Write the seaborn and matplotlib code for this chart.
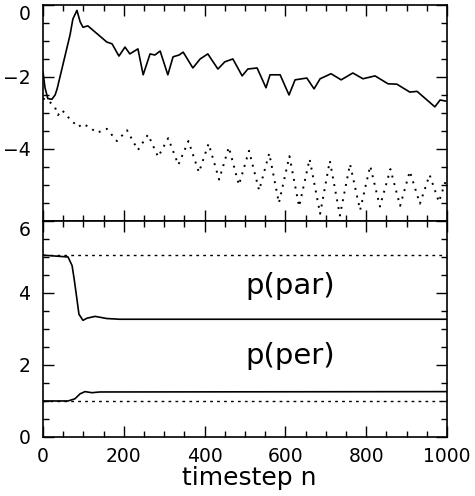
import pandas as pd
import matplotlib
matplotlib.use("Agg")
import matplotlib.pyplot as plt
import seaborn as sns

# ------------------------------
# Data
# ------------------------------
# top panel, solid curve
top_solid_n = [0, 5, 12, 22, 30, 35, 67, 74, 84, 92, 99, 111, 134, 158, 171, 188, 203, 215,
               235, 248, 265, 277, 290, 309, 322, 337, 347, 371, 389, 408, 433, 450, 470,
               493, 507, 530, 552, 562, 587, 609, 624, 653, 671, 686, 713, 738, 767, 792,
               822, 854, 876, 908, 926, 970, 983, 997]
top_solid_v = [-1.85, -2.3, -2.6, -2.62, -2.5, -2.33, -0.83, -0.39, -0.15, -0.47, -0.62, -0.58,
               -0.8, -1.03, -1.08, -1.42, -1.17, -1.36, -1.22, -1.94, -1.36, -1.39, -1.28,
               -1.94, -1.44, -1.39, -1.31, -1.75, -1.5, -1.36, -1.78, -1.58, -1.5, -1.97,
               -1.78, -1.75, -2.3, -1.94, -1.94, -2.5, -2.08, -2.03, -2.33, -2.05, -1.91,
               -2.08, -1.89, -2.05, -1.97, -2.19, -2.2, -2.42, -2.4, -2.83, -2.64, -2.67]

# top panel, dotted curve
top_dot_n = [0, 12, 22, 30, 37, 47, 65, 87, 99, 115, 134, 158, 183, 208, 235, 260, 285, 310,
             335, 360, 386, 410, 436, 460, 485, 510, 535, 560, 584, 610, 634, 660, 686, 710,
             735, 760, 785, 810, 834, 860, 884, 908, 933, 957, 980, 1000]
top_dot_v = [-2.6, -2.65, -2.75, -2.85, -3.06, -2.92, -3.15, -3.39, -3.3, -3.4, -3.55, -3.44,
             -3.78, -3.48, -4.03, -3.6, -4.22, -3.7, -4.44, -3.78, -4.65, -3.85, -4.85, -3.95,
             -5.0, -4.05, -5.15, -4.12, -5.5, -4.2, -5.6, -4.28, -5.8, -4.33, -5.85, -4.42,
             -5.7, -4.47, -5.6, -4.56, -5.58, -4.62, -5.52, -4.72, -5.47, -4.78]

# bottom panel
par_n = [0, 62, 72, 77, 84, 89, 99, 109, 129, 158, 190, 1000]
par_v = [5.05, 5.0, 4.76, 4.4, 3.83, 3.41, 3.24, 3.3, 3.35, 3.29, 3.27, 3.27]
per_n = [0, 62, 79, 92, 104, 121, 141, 1000]
per_v = [1.0, 1.0, 1.06, 1.2, 1.26, 1.23, 1.25, 1.26]
ref_n = [0, 1000]
par_ref = [5.05, 5.05]
per_ref = [1.0, 1.0]

top_ticks = [0, -2, -4]
bot_ticks = [0, 2, 4, 6]
x_ticks = [0, 200, 400, 600, 800, 1000]

# ------------------------------
# Style
# ------------------------------
sns.set_theme(style="ticks")
plt.rcParams['font.family'] = ['DejaVu Sans']
plt.rcParams['axes.linewidth'] = 1.2
plt.rcParams['axes.edgecolor'] = 'black'
plt.rcParams['text.color'] = 'black'
plt.rcParams['axes.labelcolor'] = 'black'

fig = plt.figure(figsize=(4.75, 4.96), dpi=100)
ax1 = fig.add_axes([0.0905, 0.5545, 0.8505, 0.4355])
ax2 = fig.add_axes([0.0905, 0.1190, 0.8505, 0.4355])

# ------------------------------
# Top panel
# ------------------------------
sns.lineplot(x=top_solid_n, y=top_solid_v, ax=ax1, color='black', lw=1.2, sort=False)
sns.lineplot(x=top_dot_n, y=top_dot_v, ax=ax1, color='black', lw=1.4,
             linestyle=(0, (1, 3)), sort=False)
ax1.set_ylim(-6, 0)
ax1.set_yticks(top_ticks)
ax1.set_xticklabels([])

# ------------------------------
# Bottom panel
# ------------------------------
sns.lineplot(x=par_n, y=par_v, ax=ax2, color='black', lw=1.2)
sns.lineplot(x=per_n, y=per_v, ax=ax2, color='black', lw=1.2)
sns.lineplot(x=ref_n, y=par_ref, ax=ax2, color='black', lw=1.0, linestyle=(0, (2, 3)))
sns.lineplot(x=ref_n, y=per_ref, ax=ax2, color='black', lw=1.0, linestyle=(0, (2, 3)))
ax2.set_ylim(0, 6)
ax2.set_yticks(bot_ticks)
ax2.set_xticks(x_ticks)
ax2.text(611, 4.2, "p(par)", fontsize=21, ha='center', va='center', color='black')
ax2.text(611, 2.25, "p(per)", fontsize=21, ha='center', va='center', color='black')
ax2.set_xlabel("timestep n", fontsize=18, color='black')
ax2.xaxis.set_label_coords(0.51, -0.136)

for ax in (ax1, ax2):
    ax.set_xlim(0, 1000)
    ax.set_ylabel("")
    ax.xaxis.set_minor_locator(matplotlib.ticker.MultipleLocator(50))
    ax.yaxis.set_minor_locator(matplotlib.ticker.MultipleLocator(0.5))
    ax.tick_params(which='both', direction='in', top=True, right=True, colors='black',
                   labelsize=13.5)
    ax.tick_params(which='major', length=8, width=1)
    ax.tick_params(which='minor', length=4, width=1)
    ax.tick_params(axis='y', pad=9)
    ax.tick_params(axis='x', pad=7)

# keep end labels inside their panel, as in the original
ax1.yaxis.get_major_ticks()[0].label1.set_verticalalignment('top')
ax2.yaxis.get_major_ticks()[-1].label1.set_verticalalignment('top')

fig.savefig("out.png", dpi=100, facecolor='white')
